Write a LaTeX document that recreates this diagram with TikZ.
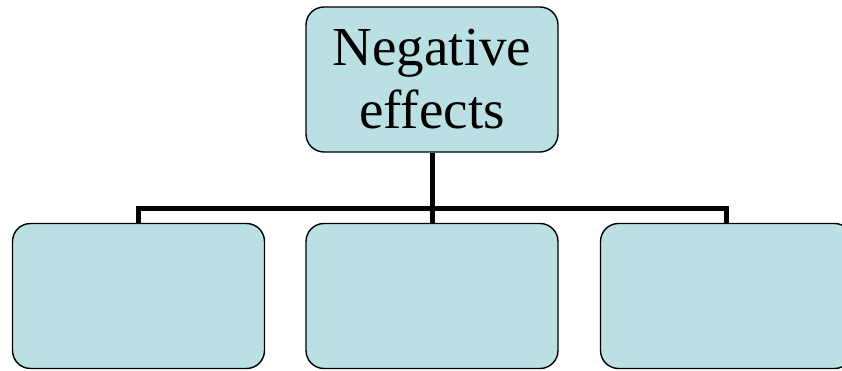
\documentclass[tikz,border=0pt]{standalone}
\usepackage{fontspec}
\setmainfont{Liberation Serif}
\definecolor{boxfill}{RGB}{187,224,227}
\begin{document}
\begin{tikzpicture}[x=1pt,y=1pt,
  orgbox/.style={draw=black, line width=1.4pt, fill=boxfill, rounded corners=18pt,
    minimum width=252pt, minimum height=145pt, inner sep=0pt, align=center,
    font=\fontsize{55}{63}\selectfont},
  link/.style={draw=black, line width=5pt}]
\clip (0,0) rectangle (842,371);
\fill[white] (0,0) rectangle (842,371);
\node[orgbox] (top) at (432,291.5) {Negative\\effects};
\node[orgbox] (left) at (138.5,75) {};
\node[orgbox] (mid) at (432,75) {};
\node[orgbox] (right) at (726.5,75) {};
\coordinate (bar) at (432,162);
\draw[link] (top.south) -- (bar);
\draw[link] (left.north) |- (bar) -| (right.north);
\draw[link] (bar) -- (mid.north);
\end{tikzpicture}
\end{document}
